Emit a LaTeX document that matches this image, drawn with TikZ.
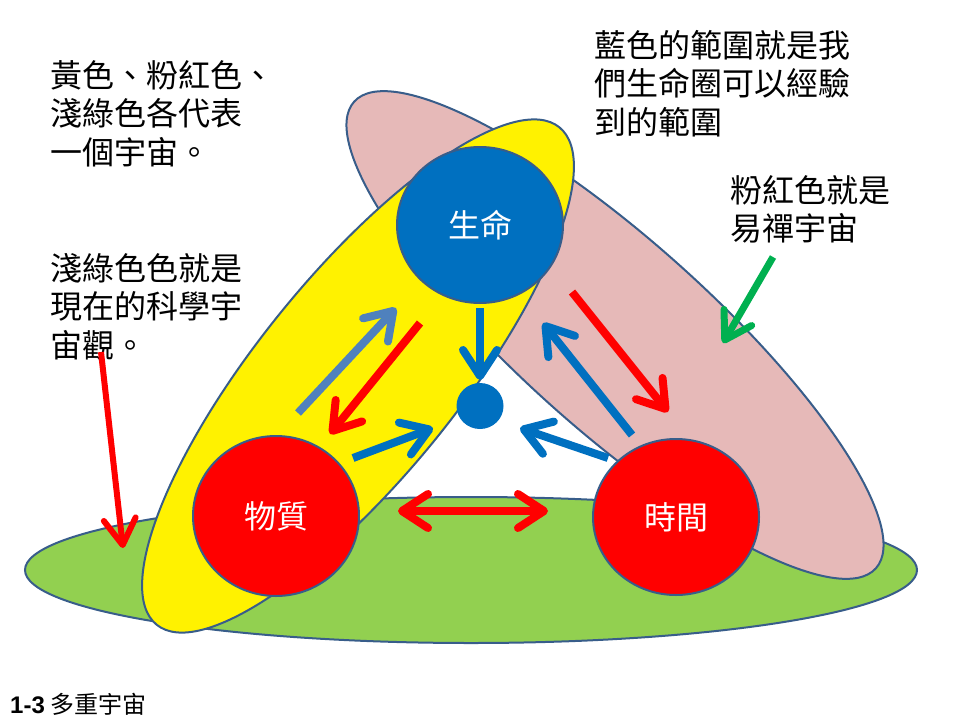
\documentclass[tikz,border=0pt]{standalone}
\usepackage{fontspec}
\setmainfont{Noto Sans CJK TC}
\newfontfamily\latinfont{Liberation Sans}
\usepackage{tikz}
\usetikzlibrary{arrows.meta}
\usetikzlibrary{shapes.geometric}
\definecolor{rim}{RGB}{56,93,138}
\definecolor{lifeblue}{RGB}{0,112,192}
\definecolor{steelblue}{RGB}{79,129,189}
\definecolor{pinkcosmos}{RGB}{230,185,184}
\definecolor{greencosmos}{RGB}{146,208,80}
\definecolor{arrowgreen}{RGB}{0,176,80}
\tikzstyle{ball}=[ellipse,draw=rim,line width=2pt,inner sep=0pt,text=white,font=\fontsize{32}{34}\selectfont]
\tikzstyle{note}=[anchor=north west,align=left,inner sep=0pt,font=\fontsize{32}{38.5}\selectfont]
\tikzstyle{flow} = [line width=8pt,-{Straight Barb[length=26pt,width=34pt,round]}]

\begin{document}
\begin{tikzpicture}
		[x=1pt,y=-1pt, cosmos/.style = {draw=rim,line width=2pt}, pointer/.style = {line width=6pt,-{Straight Barb[length=26pt,width=32pt,round]}}]
		\useasboundingbox (0,0) rectangle (960,720);
		
		% three universes
		\draw[cosmos,fill=greencosmos] (471,570) ellipse [x radius=446, y radius=73];
		\draw[cosmos,fill=pinkcosmos,rotate around={-41.8:(615,335)}] (615,335) ellipse [x radius=350, y radius=95];
		\draw[cosmos,fill=yellow,rotate around={51:(358,376)}] (358,376) ellipse [x radius=320, y radius=100];
		
		\node[ball,fill=lifeblue,minimum width=166pt,minimum height=156pt] (life) at (480,225) {生命};
		\node[ball,fill=red,minimum width=166pt,minimum height=160pt] (matter) at (276,516) {物質};
		\node[ball,fill=red,minimum width=166pt,minimum height=156pt] (time) at (676,517) {時間};
		\node[ellipse,fill=lifeblue,minimum width=47pt,minimum height=46pt,inner sep=0pt] (core) at (480,406) {};
		
		\coordinate (m1) at (298,413); \coordinate (l1) at (396,308);
		\coordinate (l2) at (420,323); \coordinate (m2) at (330,434);
		\coordinate (l3) at (480,308); \coordinate (c1) at (480,380);
		\coordinate (m3) at (353,458); \coordinate (c2) at (433,428);
		\coordinate (t1) at (608,458); \coordinate (c3) at (520,428);
		\coordinate (t2) at (632,435); \coordinate (l4) at (543,323);
		\coordinate (l5) at (572,292); \coordinate (t3) at (668,412);
		\coordinate (m4) at (398,511); \coordinate (t4) at (548,511);
		
		\draw[flow,steelblue] (m1) to (l1);
		\draw[flow,red] (l2) to (m2);
		\draw[flow,lifeblue] (l3) to (c1);
		\draw[flow,lifeblue] (m3) to (c2);
		\draw[flow,lifeblue] (t1) to (c3);
		\draw[flow,lifeblue] (t2) to (l4);
		\draw[flow,red] (l5) to (t3);
		\draw[flow,red,{Straight Barb[length=26pt,width=34pt,round]}-{Straight Barb[length=26pt,width=34pt,round]}] (m4) to (t4);
		
		% notes
		\node[note] (eachnote) at (50,60) {黃色、粉紅色、\\淺綠色各代表\\一個宇宙。};
		\node[note] (greennote) at (50,253) {淺綠色色就是\\現在的科學宇\\宙觀。};
		\node[note] (bluenote) at (594,30) {藍色的範圍就是我\\們生命圈可以經驗\\到的範圍};
		\node[note] (pinknote) at (730,175) {粉紅色就是\\易禪宇宙};
		\node[anchor=west,inner sep=0pt,font=\fontsize{24}{27}\selectfont] (caption) at (10,704) {{\latinfont\bfseries 1-3} 多重宇宙};
		
		\coordinate (g1) at (101,352); \coordinate (g2) at (123,548);
		\coordinate (p1) at (773,257); \coordinate (p2) at (723,343);
		\draw[pointer,red] (g1) to (g2);
		\draw[pointer,arrowgreen,line width=7pt] (p1) to (p2);
		
		\end{tikzpicture}
\end{document}
